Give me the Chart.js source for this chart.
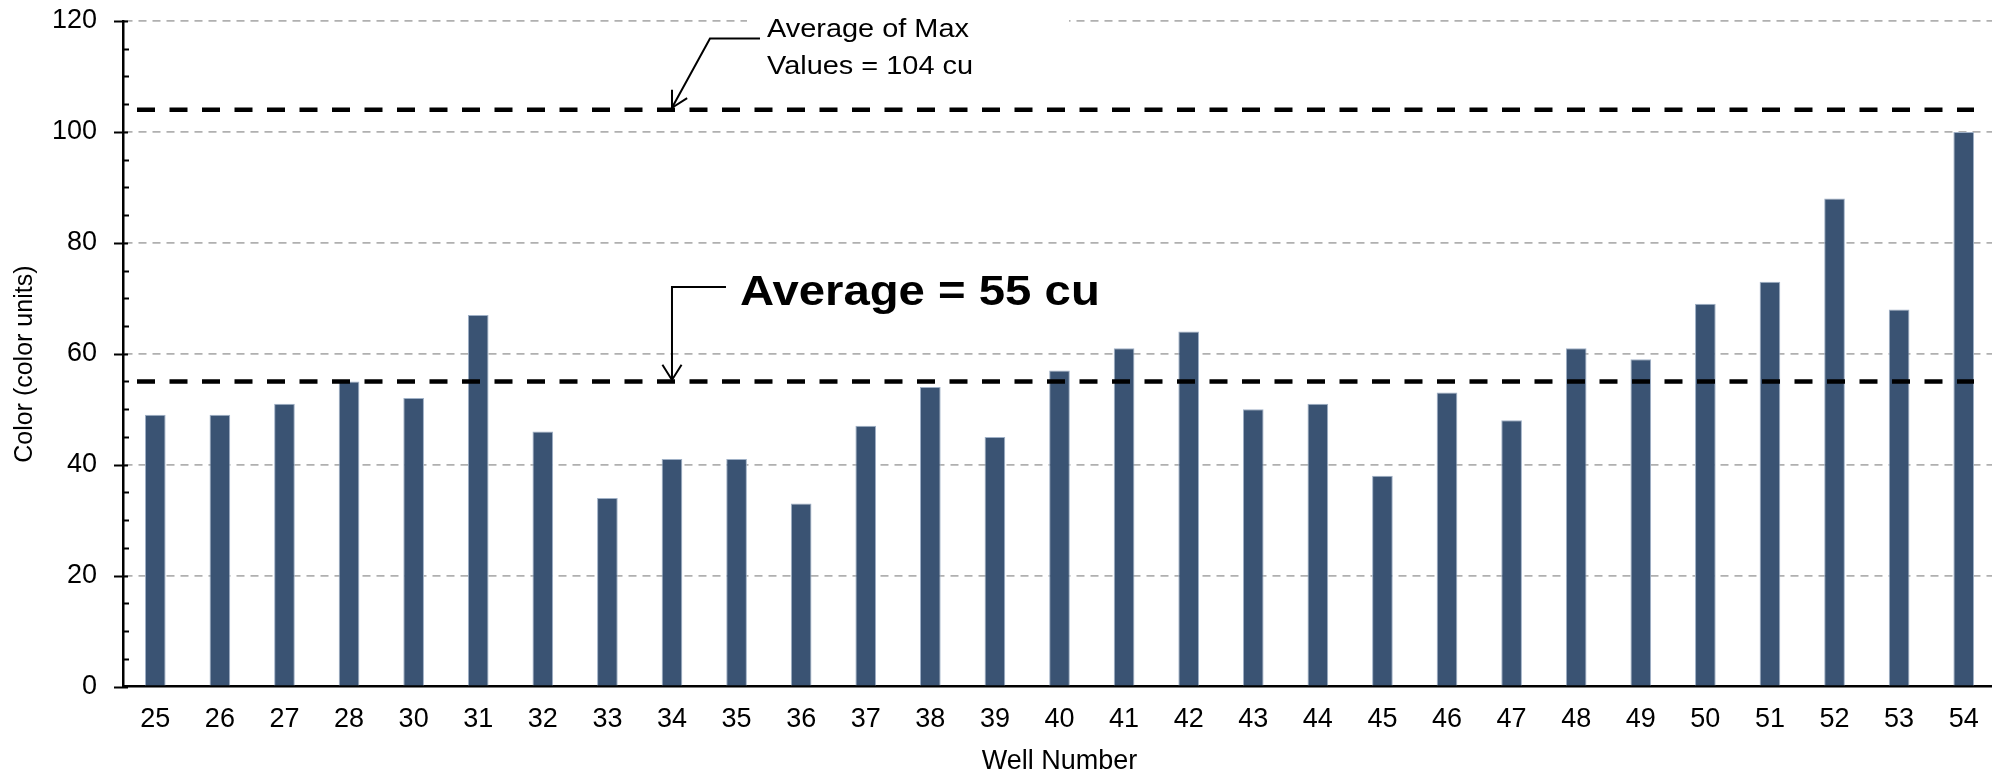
<!DOCTYPE html>
<html>
<head>
<meta charset="utf-8">
<script src="https://cdn.jsdelivr.net/npm/chart.js@4"></script>
<style>
  html, body { margin: 0; padding: 0; background: #fff; overflow: hidden; }
  #wrap { width: 1996px; height: 775px; }
</style>
</head>
<body>
<div id="wrap"><canvas id="wellChart" width="1996" height="775"></canvas></div>
<script>
const wells = ["25", "26", "27", "28", "30", "31", "32", "33", "34", "35", "36", "37", "38", "39", "40",
  "41", "42", "43", "44", "45", "46", "47", "48", "49", "50", "51", "52", "53", "54"];
const colorUnits = [49, 49, 51, 55, 52, 67, 46, 34, 41, 41, 33, 47, 54, 45, 57,
  61, 64, 50, 51, 38, 53, 48, 61, 59, 69, 73, 88, 68, 100];
const averageAll = 55;
const averageMax = 104;
const yMax = 120;
const yMajorStep = 20;
const yMinorStep = 5;
const calloutWell = "34";
const maxLabel = ["Average of Max", "Values = 104 cu"];
const avgLabel = "Average = 55 cu";

const FONT = "'Liberation Sans', Arial, sans-serif";
Chart.defaults.font.family = FONT;
Chart.defaults.color = "#000";

function stretchText(ctx, text, x, y, sx) {
  ctx.save();
  ctx.translate(x, y);
  ctx.scale(sx, 1);
  ctx.fillText(text, 0, 0);
  ctx.restore();
}

function arrowHead(ctx, fx, fy, tx, ty, len, ang) {
  const a = Math.atan2(ty - fy, tx - fx);
  ctx.beginPath();
  ctx.moveTo(tx - len * Math.cos(a - ang), ty - len * Math.sin(a - ang));
  ctx.lineTo(tx, ty);
  ctx.lineTo(tx - len * Math.cos(a + ang), ty - len * Math.sin(a + ang));
  ctx.stroke();
}

const overlay = {
  id: "overlay",
  afterDatasetsDraw(chart) {
    const { ctx, chartArea, scales: { x, y } } = chart;
    ctx.save();

    // y tick marks (major crossing, minor inside)
    ctx.strokeStyle = "#000";
    ctx.lineWidth = 2;
    for (let v = 0; v <= yMax; v += yMinorStep) {
      const py = Math.round(y.getPixelForValue(v)) + 0.5;
      ctx.beginPath();
      if (v % yMajorStep === 0) {
        ctx.moveTo(chartArea.left - 9, py);
        ctx.lineTo(chartArea.left + 5, py);
      } else {
        ctx.moveTo(chartArea.left, py);
        ctx.lineTo(chartArea.left + 6, py);
      }
      ctx.stroke();
    }

    // average lines
    ctx.lineWidth = 4.5;
    ctx.setLineDash([18, 14.5]);
    [averageMax, averageAll].forEach(v => {
      const py = y.getPixelForValue(v);
      ctx.beginPath();
      ctx.moveTo(chartArea.left + 14, py);
      ctx.lineTo(chartArea.right - 22, py);
      ctx.stroke();
    });
    ctx.setLineDash([]);

    const tx = x.getPixelForValue(wells.indexOf(calloutWell));
    const top = y.getPixelForValue(yMax);

    // text box over top gridline
    ctx.fillStyle = "#fff";
    ctx.fillRect(tx + 75, top - 6, 322, 14);

    // callout: average of max
    ctx.fillStyle = "#000";
    ctx.textBaseline = "alphabetic";
    ctx.font = "25.6px " + FONT;
    stretchText(ctx, maxLabel[0], tx + 95, top + 16, 1.13);
    stretchText(ctx, maxLabel[1], tx + 95, top + 52.6, 1.13);

    ctx.lineWidth = 2;
    const maxTipY = y.getPixelForValue(averageMax) - 2;
    ctx.beginPath();
    ctx.moveTo(tx + 88, top + 17.5);
    ctx.lineTo(tx + 38, top + 17.5);
    ctx.lineTo(tx, maxTipY);
    ctx.stroke();
    arrowHead(ctx, tx + 38, top + 17.5, tx, maxTipY, 18, 0.5);

    // callout: overall average
    const avgY = y.getPixelForValue(averageAll);
    ctx.font = "bold 43px " + FONT;
    stretchText(ctx, avgLabel, tx + 68, avgY - 76.5, 1.1);

    ctx.beginPath();
    ctx.moveTo(tx + 54, avgY - 94.5);
    ctx.lineTo(tx, avgY - 94.5);
    ctx.lineTo(tx, avgY - 1.5);
    ctx.stroke();
    arrowHead(ctx, tx, avgY - 94.5, tx, avgY - 1.5, 18, 0.56);

    ctx.restore();
  }
};

new Chart(document.getElementById("wellChart"), {
  type: "bar",
  data: {
    labels: wells,
    datasets: [{
      label: "Color",
      data: colorUnits,
      backgroundColor: "#3A5373",
      borderColor: "#9fb0c6",
      borderWidth: 1,
      borderSkipped: "bottom",
      barPercentage: 0.32,
      categoryPercentage: 1
    }]
  },
  options: {
    responsive: false,
    animation: false,
    devicePixelRatio: 1,
    layout: { padding: { top: 21, right: 0, bottom: 0, left: 0 } },
    plugins: {
      legend: { display: false },
      tooltip: { enabled: false }
    },
    scales: {
      x: {
        z: 1,
        grid: { display: false, drawTicks: false },
        border: { display: true, color: "#000", width: 2.5 },
        ticks: { font: { size: 27 }, padding: 17, maxRotation: 0, autoSkip: false },
        title: {
          display: true,
          text: "Well Number",
          font: { size: 27, lineHeight: 1 },
          padding: { top: 0, bottom: 0 }
        },
        afterFit: s => { s.height = 88.5; }
      },
      y: {
        min: 0,
        max: yMax,
        ticks: { stepSize: yMajorStep, font: { size: 27 }, padding: 0 },
        grid: {
          drawTicks: true,
          tickLength: 26,
          tickColor: "transparent",
          lineWidth: 1.8,
          color: c => (c.tick && c.tick.value !== 0 ? "#b0b0b0" : "transparent")
        },
        border: { display: true, color: "#000", width: 2.5, dash: [8, 6] },
        title: {
          display: true,
          text: "Color (color units)   ",
          font: { size: 25 },
          padding: { top: 10, bottom: 0 }
        },
        afterFit: s => { s.width = 123; }
      }
    }
  },
  plugins: [overlay]
});
</script>
</body>
</html>
